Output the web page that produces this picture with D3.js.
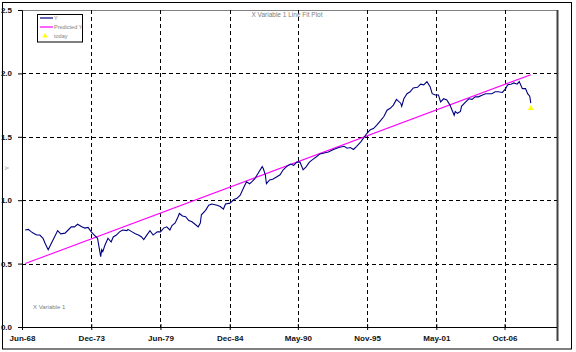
<!DOCTYPE html>
<meta charset="utf-8">
<script src="https://d3js.org/d3.v7.min.js"></script>
<style>
  body { margin: 0; background: #fff; }
  text { font-family: "Liberation Sans", Arial, sans-serif; }
</style>
<div id="chart"></div>
<script>
const dates = ["1968-09","1968-12","1969-03","1969-05","1969-08","1969-11","1970-02","1970-04","1970-07","1970-10",
  "1971-01","1971-04","1971-07","1971-11","1972-02","1972-05","1972-08","1972-11","1973-03","1973-06",
  "1973-09","1973-12","1974-03","1974-06","1974-09","1974-10","1974-11","1975-01","1975-04","1975-07",
  "1975-09","1975-12","1976-03","1976-06","1976-10","1976-11","1977-03","1977-06","1977-09","1977-12",
  "1978-02","1978-05","1978-08","1978-11","1979-03","1979-06","1979-09","1979-12","1980-03","1980-05",
  "1980-08","1980-10","1980-12","1981-03","1981-06","1981-09","1981-12","1982-03","1982-06","1982-08",
  "1982-09","1983-01","1983-04","1983-07","1983-12","1984-03","1984-06","1984-08","1984-11","1984-12",
  "1985-04","1985-07","1985-10","1986-01","1986-04","1986-07","1986-09","1986-12","1987-03","1987-07",
  "1987-08","1987-10","1987-11","1988-02","1988-05","1988-09","1988-12","1989-03","1989-07","1989-10",
  "1990-01","1990-04","1990-07","1990-10","1991-01","1991-04","1991-07","1991-11","1992-02","1992-05",
  "1992-10","1993-03","1993-08","1994-01","1994-04","1994-07","1994-10","1995-01","1995-05","1995-08",
  "1995-11","1996-02","1996-05","1996-08","1996-12","1997-03","1997-06","1997-09","1997-12","1998-03",
  "1998-07","1998-08","1998-10","1999-01","1999-04","1999-07","1999-11","2000-02","2000-05","2000-08",
  "2000-11","2001-01","2001-04","2001-07","2001-09","2001-12","2002-03","2002-06","2002-08","2002-10",
  "2002-11","2003-01","2003-04","2003-05","2003-09","2003-12","2004-03","2004-06","2004-09","2005-01",
  "2005-04","2005-07","2005-10","2006-01","2006-04","2006-08","2006-11","2007-01","2007-04","2007-07",
  "2007-10","2007-12","2008-03","2008-06","2008-08","2008-10","2008-11"];

const yValues = [0.765,0.77,0.75,0.74,0.725,0.725,0.70,0.66,0.61,0.66,
  0.71,0.76,0.735,0.74,0.765,0.79,0.79,0.81,0.79,0.78,
  0.785,0.75,0.725,0.70,0.555,0.61,0.595,0.645,0.70,0.67,
  0.71,0.725,0.75,0.765,0.76,0.77,0.75,0.735,0.725,0.71,
  0.69,0.725,0.76,0.725,0.75,0.75,0.78,0.79,0.765,0.80,
  0.82,0.855,0.895,0.875,0.87,0.84,0.83,0.81,0.79,0.82,
  0.885,0.92,0.96,0.97,0.96,0.95,0.93,0.97,0.975,0.975,
  1.005,1.015,1.04,1.095,1.145,1.13,1.145,1.17,1.21,1.265,
  1.25,1.20,1.13,1.16,1.165,1.185,1.20,1.24,1.27,1.285,
  1.275,1.30,1.30,1.24,1.265,1.30,1.32,1.345,1.365,1.37,
  1.38,1.40,1.415,1.425,1.41,1.415,1.40,1.425,1.46,1.495,
  1.53,1.555,1.565,1.59,1.63,1.66,1.71,1.725,1.75,1.795,
  1.765,1.74,1.80,1.84,1.855,1.885,1.89,1.915,1.91,1.935,
  1.895,1.84,1.83,1.83,1.775,1.80,1.79,1.75,1.71,1.67,
  1.70,1.685,1.70,1.74,1.775,1.80,1.795,1.815,1.815,1.83,
  1.84,1.84,1.84,1.855,1.855,1.85,1.88,1.91,1.915,1.925,
  1.915,1.935,1.88,1.88,1.84,1.82,1.765];

// fitted line end points
const predDates = ["1968-09", "2008-11"];
const predValues = [0.50, 1.99];

const todayDate = "2008-11";
const todayValue = 1.725;

const xTickDates = ["1968-06","1973-12","1979-06","1984-12","1990-05","1995-11","2001-05","2006-10"];
const xTickLabels = ["Jun-68","Dec-73","Jun-79","Dec-84","May-90","Nov-95","May-01","Oct-06"];
const yTicks = [0, 0.5, 1.0, 1.5, 2.0, 2.5];

const W = 576, H = 352;
const margin = {top: 10, right: 19, bottom: 25, left: 22};
const width = W - margin.left - margin.right, height = H - margin.top - margin.bottom;
const parse = d3.timeParse("%Y-%m");

const svg = d3.select("#chart").append("svg")
    .attr("width", W)
    .attr("height", H);

// chart frame
svg.append("rect")
    .attr("x", 2.5).attr("y", 2.5)
    .attr("width", 569).attr("height", 346.5)
    .attr("fill", "none").attr("stroke", "#000").attr("stroke-width", 1);

const g = svg.append("g").attr("transform", `translate(${margin.left}, ${margin.top})`);

const x = d3.scaleTime()
    .domain([parse("1968-06"), parse("2010-12")])
    .range([0, width]);

const y = d3.scaleLinear()
    .domain([0, 2.5])
    .range([height, 0]);

// plot area border: grey top, dark right edge running down past the labels
g.append("path")
    .attr("d", `M0,0.5H${width}`)
    .attr("fill", "none").attr("stroke", "#808080").attr("stroke-width", 1);
g.append("path")
    .attr("d", `M${width + 0.5},0V${height + 14}`)
    .attr("fill", "none").attr("stroke", "#404040").attr("stroke-width", 2);

// gridlines
g.append("g").selectAll("line")
    .data(yTicks.filter(d => d > 0 && d < 2.5))
    .join("line")
    .attr("x1", 0).attr("x2", width)
    .attr("y1", d => Math.round(y(d)) + 0.5).attr("y2", d => Math.round(y(d)) + 0.5)
    .attr("stroke", "#000").attr("stroke-dasharray", "4,3");

g.append("g").selectAll("line")
    .data(xTickDates.slice(1))
    .join("line")
    .attr("x1", d => Math.round(x(parse(d))) + 0.5).attr("x2", d => Math.round(x(parse(d))) + 0.5)
    .attr("y1", 0).attr("y2", height)
    .attr("stroke", "#000").attr("stroke-dasharray", "4,3");

// axes
const yAxis = g.append("g")
    .call(d3.axisLeft(y).tickValues(yTicks).tickFormat(d3.format(".1f")).tickSize(4).tickPadding(6));
const xAxis = g.append("g")
    .attr("transform", `translate(0, ${height})`)
    .call(d3.axisBottom(x).tickValues(xTickDates.map(parse)).tickFormat((d, i) => xTickLabels[i]).tickSize(3).tickPadding(5));

[yAxis, xAxis].forEach(a => {
    a.select(".domain").attr("stroke", "#000");
    a.selectAll("text").attr("font-size", "8px").attr("font-weight", "bold").attr("fill", "#111")
        .attr("font-family", "'Liberation Sans', Arial, sans-serif");
});
xAxis.select(".domain").attr("d", `M0,0.5H${width}`);
// x ticks cross the axis line
xAxis.selectAll(".tick line").attr("y1", -3);

// data line
const line = d3.line()
    .x(d => x(parse(d[0])))
    .y(d => y(d[1]));

g.append("path")
    .datum(d3.zip(predDates, predValues))
    .attr("d", line)
    .attr("fill", "none").attr("stroke", "#ff00ff").attr("stroke-width", 1.1);

g.append("path")
    .datum(d3.zip(dates, yValues))
    .attr("d", line)
    .attr("fill", "none").attr("stroke", "#000080").attr("stroke-width", 1.1);

g.append("path")
    .attr("d", d3.symbol(d3.symbolTriangle, 14)())
    .attr("transform", `translate(${x(parse(todayDate))}, ${y(todayValue)})`)
    .attr("fill", "#ffff00");

// titles
svg.append("text")
    .text("X Variable 1 Line Fit Plot")
    .attr("x", 287).attr("y", 17)
    .attr("text-anchor", "middle")
    .attr("font-size", "6.5px").attr("fill", "#808080");

svg.append("text")
    .text("X Variable 1")
    .attr("x", 33).attr("y", 309)
    .attr("font-size", "6px").attr("fill", "#808080");

svg.append("text")
    .text("Y")
    .attr("transform", "translate(9, 168) rotate(-90)")
    .attr("text-anchor", "middle")
    .attr("font-size", "6px").attr("fill", "#808080");

// legend
const legend = svg.append("g").attr("transform", "translate(37, 14)");
legend.append("rect")
    .attr("x", 0.5).attr("y", 0.5).attr("width", 45).attr("height", 27.5)
    .attr("fill", "#fff").attr("stroke", "#000");
const legendItems = ["Y", "Predicted Y", "today"];
const legendColors = ["#000080", "#ff00ff", "#ffff00"];
legendItems.forEach((name, i) => {
    const ly = 4 + i * 9;
    if (i < 2) {
        legend.append("line")
            .attr("x1", 3).attr("x2", 16).attr("y1", ly).attr("y2", ly)
            .attr("stroke", legendColors[i]).attr("stroke-width", 1.2);
    } else {
        legend.append("path")
            .attr("d", d3.symbol(d3.symbolTriangle, 12)())
            .attr("transform", `translate(8, ${ly})`)
            .attr("fill", legendColors[i]);
    }
    legend.append("text")
        .text(name)
        .attr("x", 17).attr("y", ly + 2)
        .attr("font-size", "5.5px").attr("fill", "#808080");
});
</script>
